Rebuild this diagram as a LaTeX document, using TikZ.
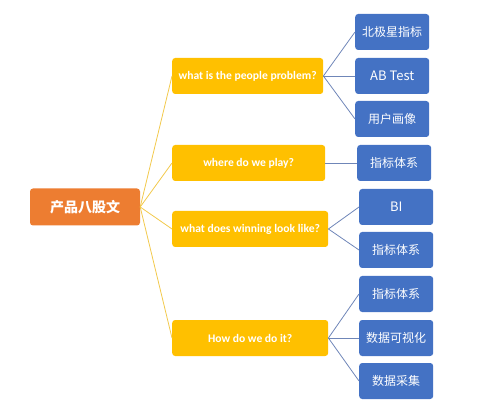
\documentclass[tikz,border=0pt]{standalone}
\usepackage{fontspec}
\setmainfont{Carlito}
\newfontfamily\cjk{Noto Sans CJK SC}
\definecolor{rootorange}{HTML}{ED7D31}
\definecolor{qyellow}{HTML}{FFC000}
\definecolor{leafblue}{HTML}{4472C4}
\definecolor{linkblue}{HTML}{6F86B8}
\definecolor{linkyellow}{HTML}{F2C94C}

\begin{document}
\begin{tikzpicture}[x=1pt,y=-1pt,
  rootbox/.style={fill=rootorange,text=white,rounded corners=3pt,minimum width=110pt,minimum height=37pt,inner sep=0pt,font=\cjk\bfseries\fontsize{14}{16}\selectfont},
  qbox/.style={fill=qyellow,text=white,rounded corners=3pt,minimum height=36pt,inner sep=0pt,anchor=west,font=\bfseries\fontsize{11.6}{13}\selectfont},
  leafbox/.style={fill=leafblue,text=white,rounded corners=3pt,minimum width=74pt,minimum height=36pt,inner sep=0pt,anchor=west,font=\cjk\fontsize{12}{14}\selectfont},
  qlink/.style={draw=linkyellow,line width=0.8pt},
  leaflink/.style={draw=linkblue,line width=0.8pt}]
\useasboundingbox (0,0) rectangle (500,411);

% root
\node[rootbox] (root) at (85,207) {产品八股文};

% questions
\node[qbox,minimum width=151pt] (q1) at (172,76) {what is the people problem?};
\node[qbox,minimum width=153pt] (q2) at (172,163) {where do we play?};
\node[qbox,minimum width=156pt] (q3) at (172,229) {what does winning look like?};
\node[qbox,minimum width=156pt] (q4) at (172,338) {How do we do it?};

\foreach \q in {q1,q2,q3,q4}
  \draw[qlink] (root.east) -- (\q.west);

% answers
\foreach \name/\x/\y/\txt/\parent in {
    a1/355/32/北极星指标/q1,
    a2/355/76/{\fontsize{13}{15}\selectfont AB Test}/q1,
    a3/355/119/用户画像/q1,
    a4/357/163/指标体系/q2,
    a5/359/207/{\fontsize{13}{15}\selectfont BI}/q3,
    a6/359/250/指标体系/q3,
    a7/359/294/指标体系/q4,
    a8/359/338/数据可视化/q4,
    a9/359/381/数据采集/q4} {
  \node[leafbox] (\name) at (\x,\y) {\txt};
  \draw[leaflink] (\parent.east) -- (\name.west);
}
\end{tikzpicture}
\end{document}
